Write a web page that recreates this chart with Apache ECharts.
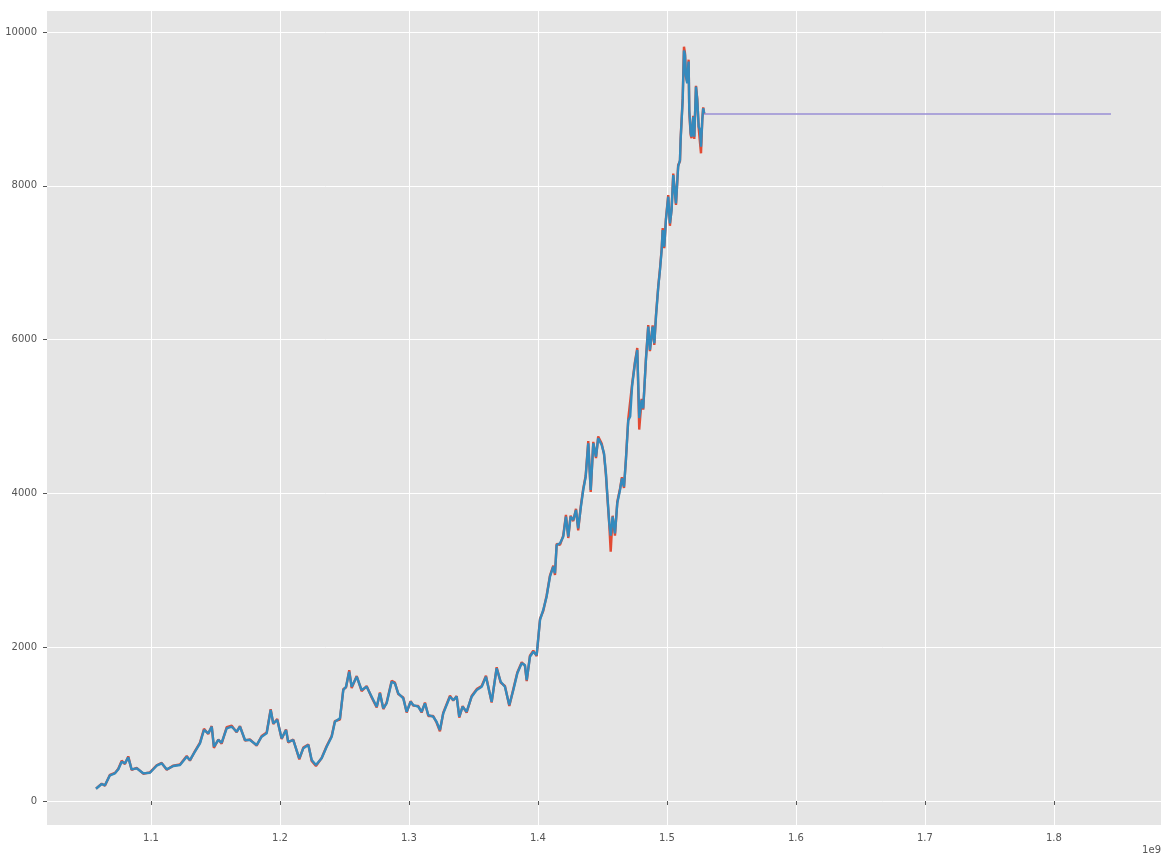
<!DOCTYPE html>
<html>
<head>
<meta charset="utf-8">
<script src="https://cdn.jsdelivr.net/npm/echarts@6/dist/echarts.min.js"></script>
<style>
  html, body { margin: 0; padding: 0; background: #ffffff; }
  #chart { width: 1172px; height: 863px; }
</style>
</head>
<body>
<div id="chart"></div>
<script>
// x values are in units of 1e9 (matplotlib offset shown as "1e9")
const timeE9 = [
  1.0574, 1.0618, 1.0643, 1.0682, 1.0721, 1.0747, 1.0773, 1.0798, 1.0824, 1.0850,
  1.0889, 1.0940, 1.0992, 1.1044, 1.1083, 1.1122, 1.1173, 1.1225, 1.1277, 1.1302,
  1.1341, 1.1380, 1.1411, 1.1444, 1.1471, 1.1488, 1.1522, 1.1548, 1.1587, 1.1626,
  1.1664, 1.1690, 1.1729, 1.1767, 1.1819, 1.1858, 1.1897, 1.1928, 1.1948, 1.1979,
  1.2013, 1.2047, 1.2064, 1.2103, 1.2150, 1.2181, 1.2220, 1.2246, 1.2279, 1.2323,
  1.2362, 1.2401, 1.2426, 1.2465, 1.2491, 1.2512, 1.2537, 1.2556, 1.2595, 1.2633,
  1.2672, 1.2711, 1.2750, 1.2775, 1.2801, 1.2827, 1.2866, 1.2891, 1.2917, 1.2956,
  1.2982, 1.3013, 1.3033, 1.3072, 1.3098, 1.3124, 1.3150, 1.3188, 1.3214, 1.3240,
  1.3266, 1.3292, 1.3318, 1.3343, 1.3370, 1.3390, 1.3416, 1.3447, 1.3486, 1.3525,
  1.3564, 1.3597, 1.3641, 1.3680, 1.3711, 1.3744, 1.3778, 1.3809, 1.3840, 1.3874,
  1.3899, 1.3913, 1.3938, 1.3964, 1.3990, 1.4016, 1.4041, 1.4067, 1.4093, 1.4119,
  1.4132, 1.4145, 1.4171, 1.4196, 1.4217, 1.4235, 1.4253, 1.4274, 1.4295, 1.4312,
  1.4333, 1.4351, 1.4370, 1.4390, 1.4409, 1.4429, 1.4450, 1.4467, 1.4494, 1.4512,
  1.4527, 1.4537, 1.4553, 1.4564, 1.4579, 1.4597, 1.4615, 1.4636, 1.4651, 1.4667,
  1.4682, 1.4700, 1.4715, 1.4730, 1.4752, 1.4770, 1.4785, 1.4804, 1.4816, 1.4837,
  1.4855, 1.4868, 1.4889, 1.4902, 1.4915, 1.4933, 1.4946, 1.4959, 1.4967, 1.4979,
  1.4992, 1.5010, 1.5023, 1.5036, 1.5049, 1.5070, 1.5087, 1.5101, 1.5106, 1.5122,
  1.5132, 1.5140, 1.5147, 1.5157, 1.5168, 1.5173, 1.5184, 1.5191, 1.5204, 1.5212,
  1.5225, 1.5235, 1.5246, 1.5256, 1.5264, 1.5274, 1.5281, 1.5289
];

const blueValues = [
  160, 221, 204, 334, 360, 412, 511, 490, 568, 412,
  425, 360, 368, 459, 490, 412, 455, 468, 576, 533,
  641, 750, 923, 880, 966, 706, 793, 758, 945, 966,
  901, 966, 793, 793, 728, 836, 880, 1183, 1010, 1053,
  815, 923, 771, 793, 555, 685, 728, 533, 468, 555,
  706, 836, 1031, 1075, 1443, 1486, 1681, 1486, 1616, 1443,
  1486, 1356, 1226, 1400, 1205, 1270, 1551, 1530, 1400, 1335,
  1161, 1291, 1248, 1226, 1161, 1270, 1118, 1096, 1031, 923,
  1140, 1248, 1356, 1313, 1356, 1096, 1226, 1161, 1356, 1443,
  1486, 1616, 1291, 1726, 1551, 1486, 1248, 1443, 1660, 1790,
  1768, 1573, 1876, 1941, 1898, 2354, 2484, 2657, 2917, 3047,
  2961, 3329, 3351, 3437, 3697, 3437, 3697, 3654, 3784, 3546,
  3827, 4044, 4217, 4651, 4044, 4651, 4477, 4717, 4629, 4521,
  4261, 4001, 3611, 3450, 3697, 3481, 3871, 4044, 4196, 4087,
  4434, 4950, 5000, 5400, 5692, 5865, 4980, 5215, 5106, 5735,
  6168, 5865, 6168, 5952, 6298, 6688, 6905, 7165, 7425, 7208,
  7555, 7858, 7511, 7685, 8140, 7771, 8248, 8336, 8596, 9116,
  9760, 9701, 9441, 9333, 9615, 8986, 8683, 8638, 8898, 8638,
  9289, 9116, 8769, 8726, 8509, 8856, 9008, 8944
];

const redValues = [
  160, 225, 200, 340, 365, 420, 525, 480, 580, 405,
  430, 355, 372, 465, 495, 405, 460, 475, 585, 525,
  650, 760, 940, 870, 975, 690, 800, 745, 960, 980,
  895, 975, 785, 800, 720, 845, 890, 1195, 1000, 1065,
  805, 930, 760, 800, 540, 695, 735, 520, 455, 560,
  715, 845, 1040, 1060, 1455, 1475, 1700, 1470, 1625, 1430,
  1495, 1345, 1215, 1410, 1195, 1280, 1565, 1540, 1390, 1345,
  1150, 1300, 1240, 1235, 1150, 1280, 1105, 1105, 1020, 905,
  1150, 1260, 1370, 1305, 1365, 1085, 1235, 1150, 1365, 1455,
  1495, 1630, 1280, 1740, 1540, 1495, 1235, 1455, 1670, 1805,
  1760, 1560, 1890, 1955, 1885, 2370, 2470, 2670, 2930, 3060,
  2940, 3345, 3330, 3450, 3720, 3420, 3710, 3640, 3800, 3520,
  3845, 4060, 4230, 4680, 4020, 4670, 4460, 4740, 4650, 4510,
  4240, 3980, 3590, 3242, 3710, 3450, 3890, 4060, 4210, 4070,
  4450, 4970, 4980, 5420, 5710, 5890, 4830, 5230, 5090, 5750,
  6190, 5850, 6185, 5930, 6320, 6700, 6920, 7180, 7450, 7190,
  7570, 7880, 7480, 7700, 8160, 7750, 8270, 8320, 8610, 9140,
  9809, 9720, 9420, 9350, 9640, 8960, 8660, 8620, 8910, 8610,
  9300, 9130, 8750, 8740, 8423, 8870, 9020, 8930
];

const forecastTime = [1.5289, 1.8442];
const forecastValues = [8934, 8934];

const xTicks = [1.1, 1.2, 1.3, 1.4, 1.5, 1.6, 1.7, 1.8];
const yTicks = [0, 2000, 4000, 6000, 8000, 10000];

const chart = echarts.init(document.getElementById('chart'));

const pair = (xs, ys) => xs.map((x, i) => [x, ys[i]]);

const labelStyle = {
  color: '#555555',
  fontSize: 10,
  fontFamily: "'DejaVu Sans', sans-serif",
};

const option = {
  backgroundColor: '#ffffff',
  animation: false,
  grid: {
    left: 47,
    right: 11,
    top: 11,
    bottom: 38,
    show: true,
    backgroundColor: '#E5E5E5',
    borderWidth: 0,
  },
  xAxis: {
    type: 'value',
    min: 1.0194,
    max: 1.883,
    axisLine: { show: false },
    axisTick: {
      show: true,
      length: 4,
      customValues: xTicks,
      lineStyle: { color: '#555555', width: 1 },
    },
    axisLabel: {
      ...labelStyle,
      margin: 8,
      customValues: xTicks,
      formatter: (v) => v.toFixed(1),
    },
    splitLine: { show: true, lineStyle: { color: '#ffffff', width: 1 } },
  },
  yAxis: {
    type: 'value',
    min: -312,
    max: 10273,
    axisLine: { show: false },
    axisTick: {
      show: true,
      length: 4,
      customValues: yTicks,
      lineStyle: { color: '#555555', width: 1 },
    },
    axisLabel: {
      ...labelStyle,
      margin: 10,
      customValues: yTicks,
      formatter: (v) => String(v),
    },
    splitLine: { show: true, lineStyle: { color: '#ffffff', width: 1 } },
  },
  graphic: [
    {
      type: 'text',
      right: 11,
      top: 845,
      style: { text: '1e9', ...labelStyle, fill: '#555555' },
    },
  ],
  series: [
    {
      type: 'line',
      data: pair(timeE9, redValues),
      showSymbol: false,
      lineStyle: { color: '#E24A33', width: 2.4 },
    },
    {
      type: 'line',
      data: pair(timeE9, blueValues),
      showSymbol: false,
      lineStyle: { color: '#348ABD', width: 2.4 },
    },
    {
      type: 'line',
      data: pair(forecastTime, forecastValues),
      showSymbol: false,
      lineStyle: { color: '#988ED5', width: 1.6 },
    },
  ],
};

chart.setOption(option);
</script>
</body>
</html>
